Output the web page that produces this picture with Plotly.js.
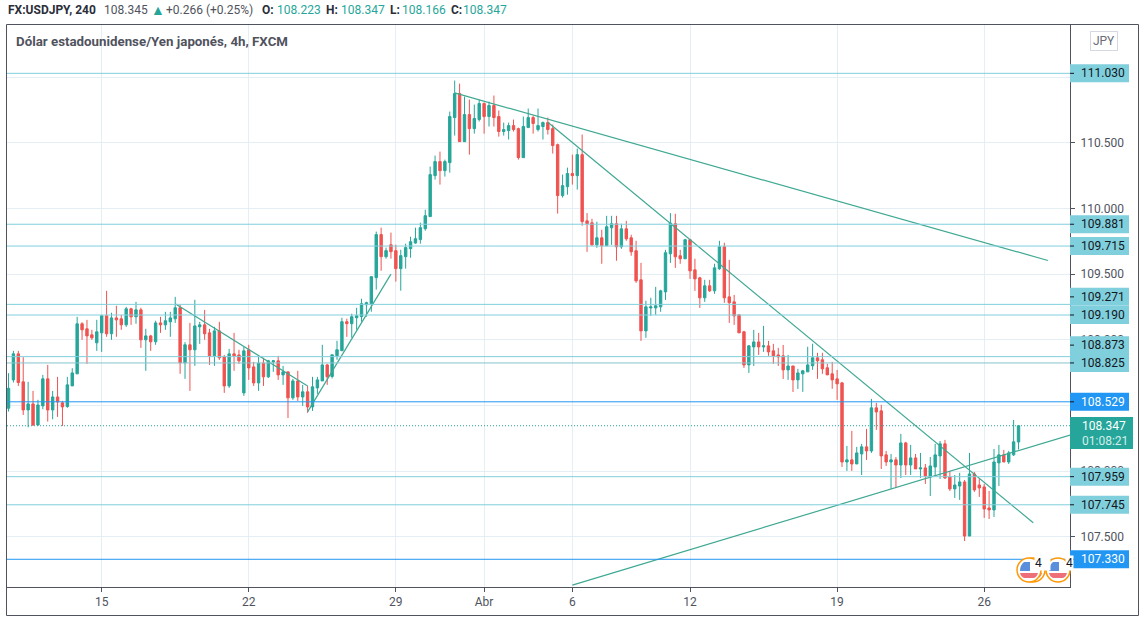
<!DOCTYPE html>
<html>
<head>
<meta charset="utf-8">
<script src="https://cdn.plot.ly/plotly-3.0.1.min.js"></script>
<style>
  html, body { margin: 0; padding: 0; background: #fff; }
</style>
</head>
<body>
<div id="myDiv"></div>
<script>
var opens = [
  108.480,108.696,108.894,108.681,108.467,108.513,108.353,108.498,108.704,108.467,
  108.566,108.521,108.493,108.650,108.742,109.123,109.085,109.039,108.978,109.054,
  109.184,109.047,109.168,109.161,109.115,109.237,109.176,109.229,109.001,109.031,
  108.986,109.130,109.115,109.138,109.161,109.245,108.826,108.963,108.925,109.100,
  109.115,109.054,108.879,109.069,108.871,108.650,108.894,108.886,108.597,108.925,
  108.795,108.673,108.823,108.719,108.833,108.841,108.734,108.757,108.559,108.688,
  108.566,108.605,108.490,108.635,108.688,108.810,108.722,108.880,108.918,109.139,
  109.124,109.169,109.177,109.268,109.276,109.474,109.802,109.634,109.725,109.680,
  109.543,109.634,109.695,109.738,109.764,109.847,109.939,110.251,110.358,110.289,
  110.350,110.693,110.876,110.510,110.716,110.609,110.678,110.800,110.701,110.785,
  110.701,110.587,110.594,110.632,110.609,110.388,110.617,110.693,110.602,110.625,
  110.655,110.609,110.487,110.099,110.167,110.267,110.251,110.411,109.907,109.892,
  109.724,109.778,109.717,109.854,109.885,109.709,109.846,109.778,109.679,109.458,
  109.069,109.244,109.244,109.252,109.366,109.656,109.885,109.641,109.618,109.763,
  109.534,109.473,109.321,109.412,109.374,109.542,109.709,109.328,109.290,109.191,
  109.062,108.810,108.947,108.985,108.947,108.955,108.917,108.886,108.879,108.772,
  108.802,108.696,108.742,108.757,108.803,108.864,108.849,108.788,108.742,108.704,
  108.673,108.071,108.087,108.056,108.132,108.186,108.155,108.483,108.460,108.125,
  108.071,108.087,108.048,108.216,108.048,108.102,108.018,108.026,107.957,108.033,
  108.117,108.209,107.957,107.866,107.888,107.919,107.507,107.980,107.896,107.881,
  107.721,107.706,108.064,108.125,108.071,108.125,108.223
];
var highs = [
  108.747,108.917,108.917,108.869,108.681,108.612,108.544,108.734,108.810,108.612,
  108.719,108.536,108.719,108.785,109.176,109.135,109.153,109.077,109.153,109.191,
  109.374,109.207,109.260,109.191,109.252,109.245,109.290,109.245,109.085,109.039,
  109.146,109.176,109.214,109.214,109.328,109.267,108.983,109.130,109.306,109.138,
  109.229,109.085,109.100,109.138,108.886,108.932,109.054,108.925,108.947,108.963,
  108.833,108.871,108.864,108.848,108.848,108.879,108.803,108.757,108.704,108.765,
  108.658,108.650,108.719,108.719,108.963,108.818,108.887,108.994,109.169,109.162,
  109.200,109.245,109.314,109.291,109.482,109.825,109.855,109.703,109.817,109.725,
  109.687,109.733,109.786,109.855,109.893,109.992,110.320,110.404,110.434,110.373,
  110.739,110.975,110.952,110.853,110.830,110.792,110.830,110.808,110.815,110.861,
  110.747,110.655,110.655,110.678,110.617,110.701,110.762,110.708,110.762,110.663,
  110.693,110.640,110.495,110.259,110.312,110.411,110.457,110.564,109.966,109.923,
  109.900,109.839,109.945,109.945,109.945,109.885,109.907,109.801,109.755,109.587,
  109.298,109.321,109.404,109.382,109.686,109.966,109.961,109.686,109.770,109.770,
  109.618,109.481,109.458,109.458,109.580,109.755,109.740,109.610,109.343,109.191,
  109.069,108.962,109.077,109.054,109.107,108.993,108.970,108.940,108.962,108.886,
  108.802,108.780,108.772,108.948,108.971,108.902,108.902,108.818,108.833,108.772,
  108.681,108.193,108.308,108.186,108.209,108.323,108.551,108.521,108.506,108.155,
  108.132,108.109,108.285,108.224,108.201,108.132,108.140,108.056,108.109,108.209,
  108.231,108.239,108.003,107.972,107.988,107.934,108.140,107.995,107.942,107.904,
  107.850,108.170,108.201,108.163,108.155,108.391,108.347
];
var lows = [
  108.455,108.676,108.650,108.429,108.335,108.345,108.345,108.472,108.378,108.396,
  108.414,108.345,108.483,108.650,108.742,109.001,108.818,109.001,108.917,108.909,
  109.024,109.001,109.024,109.077,109.100,109.115,109.123,108.940,108.765,108.917,
  108.963,109.054,109.077,109.024,109.130,108.742,108.704,108.612,108.803,108.970,
  109.001,108.810,108.803,108.848,108.597,108.635,108.765,108.818,108.574,108.696,
  108.650,108.612,108.650,108.711,108.757,108.696,108.658,108.406,108.544,108.536,
  108.498,108.445,108.460,108.589,108.688,108.658,108.707,108.849,108.918,109.024,
  109.017,109.078,109.139,109.177,109.215,109.383,109.527,109.619,109.619,109.444,
  109.375,109.543,109.626,109.733,109.733,109.832,109.939,110.221,110.183,110.244,
  110.274,110.556,110.510,110.510,110.411,110.571,110.663,110.571,110.625,110.625,
  110.548,110.556,110.526,110.587,110.373,110.388,110.617,110.571,110.587,110.526,
  110.564,110.419,109.962,110.084,110.106,110.183,110.145,109.870,109.671,109.717,
  109.702,109.580,109.717,109.724,109.603,109.694,109.755,109.641,109.435,108.993,
  109.016,109.183,109.191,109.214,109.305,109.587,109.549,109.580,109.618,109.465,
  109.374,109.244,109.290,109.366,109.351,109.534,109.283,109.130,109.115,109.054,
  108.787,108.749,108.802,108.886,108.909,108.879,108.818,108.802,108.703,108.696,
  108.604,108.627,108.605,108.757,108.772,108.704,108.742,108.734,108.628,108.544,
  108.033,108.003,108.003,108.056,107.972,108.087,108.140,108.315,108.018,108.041,
  107.866,107.873,107.949,107.972,107.972,108.018,107.949,107.904,107.812,107.965,
  107.942,107.942,107.850,107.797,107.782,107.469,107.507,107.843,107.805,107.645,
  107.637,107.652,107.888,108.071,108.056,108.117,108.166
];
var closes = [
  108.632,108.894,108.676,108.467,108.513,108.353,108.505,108.704,108.467,108.566,
  108.528,108.490,108.658,108.749,109.123,109.077,109.031,109.016,109.062,109.184,
  109.047,109.168,109.153,109.115,109.237,109.176,109.229,109.001,109.031,108.986,
  109.130,109.115,109.146,109.168,109.245,108.826,108.963,108.925,109.107,109.115,
  109.047,108.879,109.069,108.864,108.650,108.894,108.879,108.841,108.917,108.787,
  108.673,108.823,108.719,108.841,108.841,108.734,108.757,108.559,108.688,108.566,
  108.605,108.490,108.643,108.696,108.810,108.719,108.887,108.925,109.139,109.124,
  109.177,109.184,109.276,109.284,109.482,109.802,109.634,109.680,109.672,109.543,
  109.642,109.703,109.748,109.771,109.855,109.946,110.259,110.358,110.289,110.358,
  110.701,110.876,110.510,110.716,110.609,110.686,110.800,110.701,110.785,110.693,
  110.587,110.602,110.632,110.602,110.388,110.625,110.693,110.648,110.632,110.655,
  110.602,110.480,110.099,110.175,110.267,110.251,110.411,109.901,109.885,109.724,
  109.778,109.717,109.862,109.885,109.709,109.846,109.770,109.671,109.450,109.069,
  109.252,109.252,109.260,109.374,109.664,109.890,109.633,109.618,109.763,109.526,
  109.465,109.321,109.412,109.374,109.549,109.709,109.321,109.283,109.183,109.054,
  108.810,108.955,108.985,108.947,108.955,108.909,108.879,108.871,108.772,108.802,
  108.696,108.749,108.765,108.810,108.864,108.841,108.780,108.734,108.696,108.666,
  108.071,108.087,108.056,108.140,108.186,108.155,108.483,108.452,108.117,108.071,
  108.087,108.048,108.216,108.048,108.102,108.018,108.026,107.965,108.041,108.125,
  108.209,107.949,107.866,107.896,107.919,107.507,107.980,107.858,107.873,107.713,
  107.706,108.071,108.125,108.071,108.140,108.224,108.347
];

var tickBars = [19, 49, 79, 97, 115, 139, 169, 199];
var tickNames = ["15", "22", "29", "Abr", "6", "12", "19", "26"];
var priceTicks = [107.5, 108, 108.5, 109, 109.5, 110, 110.5, 111];

var cyanLevels = [111.03, 109.881, 109.715, 109.271, 109.19, 108.873, 108.825, 107.959, 107.745];
var blueLevels = [108.529, 107.33];
var lastPrice = 108.347;

// drawn trend lines, [bar, bar] and [price, price]
var trendBars = [[91, 212], [110, 209], [115, 216.5], [34, 61], [61, 78]];
var trendPrices = [[110.881, 109.605], [110.657, 107.608], [107.133, 108.276], [109.275, 108.65], [108.452, 109.501]];

var W = 1145, H = 623;
var L = 7, R = 1070, T = 25, B = 587;
var GREEN = "#26a69a", RED = "#ef5350", CYAN = "#80cfdc", BLUE = "#2196f3", FRAME = "#50535e";
var FONT = "Roboto, 'Noto Sans', sans-serif";

// labels that the price scale pushes away from their neighbour, in pixels
var labelShift = { "109.271": 7.5, "108.873": 11.5 };

function px(x) { return (x - L) / (R - L); }
function py(y) { return (B - y) / (B - T); }

function text(x, y, txt, color, size, extra) {
  var a = {
    xref: "paper", yref: "paper", x: px(x), y: py(y), xanchor: "left", yanchor: "middle",
    text: txt, showarrow: false, font: { family: FONT, size: size || 12, color: color }, borderpad: 0
  };
  for (var k in extra) a[k] = extra[k];
  return a;
}

var shapes = [];
var annotations = [];

// outer frame
shapes.push({
  type: "rect", xref: "paper", yref: "paper", layer: "below",
  x0: px(6.5), x1: px(1138.5), y0: py(615.5), y1: py(24.5),
  line: { color: FRAME, width: 1 }
});

function hline(price, color) {
  shapes.push({
    type: "line", xref: "paper", yref: "y", x0: 0, x1: 1, y0: price, y1: price,
    line: { color: color, width: 1 }, layer: "above"
  });
}
function badge(price, bg, fg) {
  var s = labelShift[price.toFixed(3)] || 0;
  shapes.push({
    type: "rect", xref: "paper", yref: "y", xsizemode: "pixel", ysizemode: "pixel",
    xanchor: 1, yanchor: price, x0: 0, x1: 59, y0: s - 9, y1: s + 9,
    fillcolor: bg, line: { width: 0 }, layer: "above"
  });
  shapes.push({
    type: "line", xref: "paper", yref: "y", xsizemode: "pixel", ysizemode: "pixel",
    xanchor: 1, yanchor: price, x0: 0, x1: 4, y0: s, y1: s,
    line: { color: "#131722", width: 1 }, layer: "above"
  });
  annotations.push({
    xref: "paper", yref: "y", x: 1, y: price, xanchor: "left", yanchor: "middle", xshift: 10, yshift: s,
    text: price.toFixed(3), showarrow: false, font: { family: FONT, size: 12, color: fg }, borderpad: 0
  });
}

cyanLevels.forEach(function (p) {
  hline(p, p === 108.825 ? "#86c4cc" : CYAN);
  badge(p, CYAN, "#131722");
});
blueLevels.forEach(function (p) {
  hline(p, BLUE);
  badge(p, BLUE, "#ffffff");
});

// last price line and its two line label
shapes.push({
  type: "line", xref: "paper", yref: "y", x0: 0, x1: 1, y0: lastPrice, y1: lastPrice,
  line: { color: GREEN, width: 1, dash: "1px,2px" }, layer: "above"
});
shapes.push({
  type: "rect", xref: "paper", yref: "paper", x0: px(1070), x1: px(1133), y0: py(449), y1: py(417),
  fillcolor: GREEN, line: { width: 0 }, layer: "above"
});
annotations.push(text(1081, 426, "108.347", "#ffffff", 12));
annotations.push(text(1081, 441, "01:08:21", "#d4eeeb", 12));

// event icons at the bottom
function flag(cx) {
  var base = { xref: "paper", yref: "paper", xsizemode: "pixel", ysizemode: "pixel", xanchor: px(cx), yanchor: py(570), layer: "above" };
  function add(o) { for (var k in base) o[k] = base[k]; shapes.push(o); }
  add({ type: "circle", x0: -12, x1: 12, y0: -12, y1: 12, fillcolor: "#ffffff", line: { color: "#ff9800", width: 1.5 } });
  add({ type: "path", path: "M -9 -3 L 9 -3 Q 8 -7 5 -8 L -5 -8 Q -8 -7 -9 -3 Z", fillcolor: "#ef6f78", line: { width: 0 } });
  add({ type: "path", path: "M -9 -1 L 1 -1 L 1 8 L -5 8 Q -9 5 -9 -1 Z", fillcolor: "#5b8fdc", line: { width: 0 } });
}
flag(1033);
flag(1029);
flag(1058);
annotations.push(text(1034, 563, "4", "#131722", 12, { bgcolor: "#ffffff", width: 15, align: "left" }));
annotations.push(text(1065, 563, "4", "#131722", 12, { bgcolor: "#ffffff", width: 7, align: "left" }));

// header line
annotations.push(text(7, 10, "<b>FX:USDJPY, 240</b>", "#2a2e39", 12));
annotations.push(text(103, 10, "108.345", "#50535e", 12));
annotations.push(text(150, 10, "▲", GREEN, 14));
annotations.push(text(165, 10, "+0.266 (+0.25%)", "#50535e", 12));
annotations.push(text(261, 10, "<b>O:</b>", "#2a2e39", 12));
annotations.push(text(276, 10, "108.223", GREEN, 12));
annotations.push(text(325, 10, "<b>H:</b>", "#2a2e39", 12));
annotations.push(text(340, 10, "108.347", GREEN, 12));
annotations.push(text(389, 10, "<b>L:</b>", "#2a2e39", 12));
annotations.push(text(401, 10, "108.166", GREEN, 12));
annotations.push(text(450, 10, "<b>C:</b>", "#2a2e39", 12));
annotations.push(text(462, 10, "108.347", GREEN, 12));

// name of the instrument and currency box
annotations.push(text(15, 42, "<b>Dólar estadounidense/Yen japonés, 4h, FXCM</b>", "#50535e", 13.3));
annotations.push(text(1090, 41, "JPY", "#6a6d78", 12, {
  width: 26, height: 18, align: "center", bordercolor: "#d6d8e0", borderwidth: 1, xanchor: "left"
}));

var bars = opens.map(function (v, i) { return i; });

var traces = [{
  type: "candlestick",
  x: bars,
  open: opens,
  high: highs,
  low: lows,
  close: closes,
  increasing: { line: { color: GREEN, width: 1 }, fillcolor: GREEN },
  decreasing: { line: { color: RED, width: 1 }, fillcolor: RED },
  whiskerwidth: 0,
  hoverinfo: "skip",
  showlegend: false
}];

for (var i = 0; i < trendBars.length; i++) {
  traces.push({
    type: "scatter",
    mode: "lines",
    x: trendBars[i],
    y: trendPrices[i],
    line: { color: "#3fa893", width: 1.2 },
    hoverinfo: "skip",
    showlegend: false
  });
}

var layout = {
  width: W,
  height: H,
  autosize: false,
  margin: { l: L, r: W - R, t: T, b: H - B, pad: 0 },
  paper_bgcolor: "#ffffff",
  plot_bgcolor: "#ffffff",
  showlegend: false,
  hovermode: false,
  font: { family: FONT, size: 12, color: FRAME },
  xaxis: {
    range: [-0.31, 216.5],
    rangeslider: { visible: false },
    tickmode: "array",
    tickvals: tickBars,
    ticktext: tickNames,
    ticks: "outside",
    ticklen: 4,
    tickcolor: FRAME,
    tickfont: { family: FONT, size: 12, color: FRAME },
    showgrid: true,
    gridcolor: "#e4eef4",
    gridwidth: 1,
    zeroline: false,
    showline: true,
    linecolor: FRAME,
    linewidth: 1
  },
  yaxis: {
    range: [107.119, 111.398],
    side: "right",
    tickmode: "array",
    tickvals: priceTicks,
    tickformat: ".3f",
    ticks: "outside",
    ticklen: 4,
    tickcolor: FRAME,
    tickfont: { family: FONT, size: 12, color: FRAME },
    ticklabelstandoff: 3,
    showgrid: true,
    gridcolor: "#e4eef4",
    gridwidth: 1,
    zeroline: false,
    showline: true,
    linecolor: FRAME,
    linewidth: 1
  },
  shapes: shapes,
  annotations: annotations
};

Plotly.newPlot("myDiv", traces, layout, { displayModeBar: false, staticPlot: true });
</script>
</body>
</html>
